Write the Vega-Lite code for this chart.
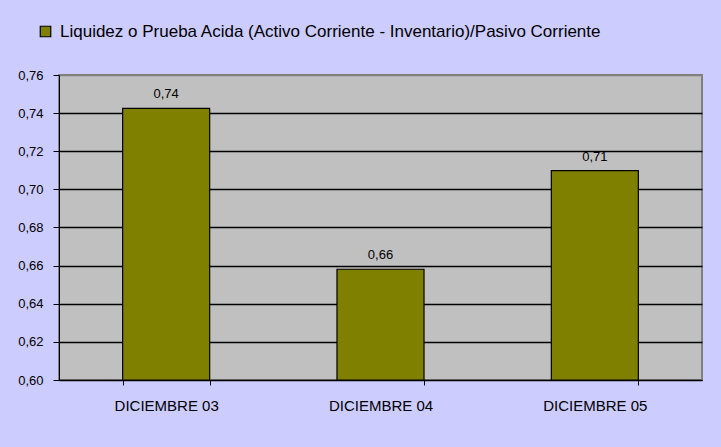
{
  "$schema": "https://vega.github.io/schema/vega-lite/v6.json",
  "width": 643,
  "height": 305,
  "autosize": {"type": "none"},
  "padding": {"left": 59, "top": 75, "right": 19, "bottom": 67},
  "background": "#CCCCFF",
  "data": {
    "values": [
      {"periodo": "DICIEMBRE 03", "valor": 0.7425, "serie": "Liquidez o Prueba Acida (Activo Corriente - Inventario)/Pasivo Corriente"},
      {"periodo": "DICIEMBRE 04", "valor": 0.6581, "serie": "Liquidez o Prueba Acida (Activo Corriente - Inventario)/Pasivo Corriente"},
      {"periodo": "DICIEMBRE 05", "valor": 0.7098, "serie": "Liquidez o Prueba Acida (Activo Corriente - Inventario)/Pasivo Corriente"}
    ]
  },
  "encoding": {
    "x": {
      "field": "periodo",
      "type": "nominal",
      "sort": null,
      "scale": {"paddingInner": 0.594, "paddingOuter": 0.297},
      "axis": {
        "title": null,
        "labelAngle": 0,
        "tickBand": "extent",
        "tickSize": 5,
        "tickColor": "black",
        "domainColor": "black",
        "labelPadding": 13,
        "labelFontSize": 15,
        "labelFont": "Liberation Sans",
        "labelColor": "black",
        "grid": false
      }
    },
    "y": {
      "field": "valor",
      "type": "quantitative",
      "scale": {"domain": [0.6, 0.76], "nice": false, "zero": false},
      "axis": {
        "title": null,
        "values": [0.6, 0.62, 0.64, 0.66, 0.68, 0.7, 0.72, 0.74, 0.76],
        "format": ".2f",
        "tickSize": 6,
        "tickColor": "black",
        "domainColor": "black",
        "labelPadding": 10,
        "labelFontSize": 13,
        "labelFont": "Liberation Sans",
        "labelColor": "black",
        "grid": true,
        "gridColor": {"condition": {"test": "datum.value >= 0.759", "value": "#808080"}, "value": "black"},
        "gridWidth": 1.5
      }
    }
  },
  "layer": [
    {
      "mark": {"type": "bar", "stroke": "black", "strokeWidth": 1.2},
      "encoding": {
        "y2": {"datum": 0.6},
        "color": {
          "field": "serie",
          "type": "nominal",
          "scale": {"range": ["#808000"]},
          "legend": {
            "title": null,
            "orient": "none",
            "legendX": -22,
            "legendY": -52,
            "symbolType": "square",
            "symbolSize": 110,
            "symbolStrokeColor": "black",
            "symbolStrokeWidth": 1.2,
            "labelFontSize": 17,
            "labelFont": "Liberation Sans",
            "labelColor": "black",
            "labelLimit": 700,
            "labelOffset": 6
          }
        }
      }
    },
    {
      "mark": {"type": "text", "baseline": "alphabetic", "dy": -10, "fontSize": 13, "font": "Liberation Sans", "color": "black"},
      "encoding": {
        "text": {"field": "valor", "type": "quantitative", "format": ".2f"}
      }
    }
  ],
  "config": {
    "locale": {"number": {"decimal": ",", "thousands": ".", "grouping": [3], "currency": ["", " €"]}},
    "view": {"fill": "#C0C0C0", "stroke": "#808080", "strokeWidth": 2}
  }
}
